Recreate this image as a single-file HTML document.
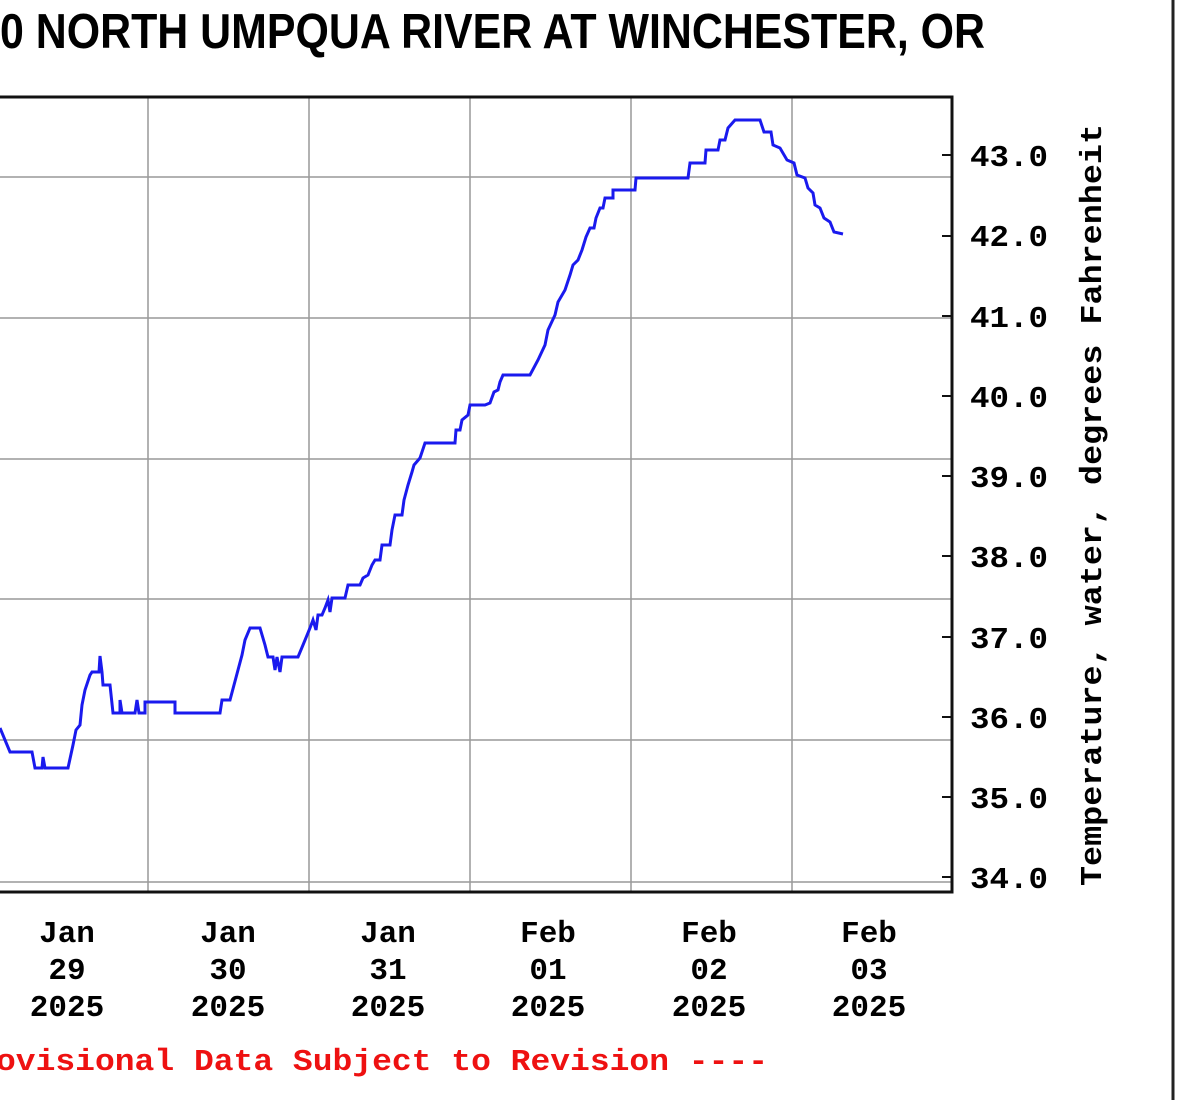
<!DOCTYPE html>
<html><head><meta charset="utf-8"><style>
html,body{margin:0;padding:0;background:#fff;width:1200px;height:1100px;overflow:hidden}
svg{display:block}
.m{font-family:"Liberation Mono","DejaVu Sans Mono",monospace;font-weight:bold;font-size:31px;fill:#000}
</style></head><body>
<svg width="1200" height="1100" viewBox="0 0 1200 1100" xmlns="http://www.w3.org/2000/svg">
<text x="0" y="48" font-family="'Liberation Sans Narrow','Liberation Sans',sans-serif" font-weight="bold" font-size="49" textLength="985" lengthAdjust="spacingAndGlyphs">0 NORTH UMPQUA RIVER AT WINCHESTER, OR</text>
<g stroke="#999" stroke-width="1.5">
<line x1="148" y1="97" x2="148" y2="892"/><line x1="309" y1="97" x2="309" y2="892"/><line x1="470" y1="97" x2="470" y2="892"/><line x1="631" y1="97" x2="631" y2="892"/><line x1="792" y1="97" x2="792" y2="892"/>
<line x1="0" y1="177" x2="952" y2="177"/><line x1="0" y1="318" x2="952" y2="318"/><line x1="0" y1="459" x2="952" y2="459"/><line x1="0" y1="599" x2="952" y2="599"/><line x1="0" y1="740" x2="952" y2="740"/><line x1="0" y1="882" x2="952" y2="882"/>
</g>
<path d="M-2 97 H952 V892 H-2" fill="none" stroke="#111" stroke-width="3"/>
<g stroke="#111" stroke-width="2">
<line x1="942" y1="155" x2="952" y2="155"/><line x1="942" y1="236" x2="952" y2="236"/><line x1="942" y1="316" x2="952" y2="316"/><line x1="942" y1="396" x2="952" y2="396"/><line x1="942" y1="476" x2="952" y2="476"/><line x1="942" y1="556" x2="952" y2="556"/><line x1="942" y1="637" x2="952" y2="637"/><line x1="942" y1="717" x2="952" y2="717"/><line x1="942" y1="797" x2="952" y2="797"/><line x1="942" y1="877" x2="952" y2="877"/>
</g>
<line x1="1173" y1="0" x2="1173" y2="1100" stroke="#222" stroke-width="3"/>
<polyline fill="none" stroke="#1a1aee" stroke-width="3" stroke-linejoin="miter" points="0,728 5,740 10,752 32,752 35,768 42,768 43,757 45,768 68,768 73,745 76,730 80,725 82,705 85,690 90,675 92,672 99,672 100,656 102,672 103,685 110,685 113,713 120,713 120,700 122,713 135,713 137,700 139,713 145,713 145,702 175,702 175,713 220,713 222,700 230,700 234,685 238,670 242,655 245,640 250,628 260,628 265,645 268,657 273,657 275,670 277,657 280,672 282,657 298,657 303,645 310,628 313,620 316,630 318,615 322,615 325,608 328,600 330,612 332,598 345,598 348,585 360,585 363,578 368,575 372,565 375,560 380,560 382,545 390,545 392,530 395,515 402,515 404,500 408,485 412,472 414,465 420,458 425,443 455,443 456,430 460,430 462,420 468,415 470,405 476,405 480,405 485,405 490,403 494,392 498,390 500,382 503,375 530,375 538,360 545,345 548,330 555,315 558,302 565,290 570,275 573,265 578,260 582,250 586,237 590,228 594,228 596,218 600,208 603,208 605,198 613,198 613,190 635,190 636,178 688,178 690,163 705,163 706,150 718,150 720,140 725,140 728,128 735,120 760,120 764,132 771,132 773,145 780,148 787,160 794,163 797,175 805,178 808,188 813,193 815,205 820,208 824,218 830,222 834,232 843,234"/>
<g class="m" text-anchor="start">
<text x="970" y="166" textLength="78" lengthAdjust="spacingAndGlyphs">43.0</text>
<text x="970" y="246" textLength="78" lengthAdjust="spacingAndGlyphs">42.0</text>
<text x="970" y="327" textLength="78" lengthAdjust="spacingAndGlyphs">41.0</text>
<text x="970" y="407" textLength="78" lengthAdjust="spacingAndGlyphs">40.0</text>
<text x="970" y="487" textLength="78" lengthAdjust="spacingAndGlyphs">39.0</text>
<text x="970" y="567" textLength="78" lengthAdjust="spacingAndGlyphs">38.0</text>
<text x="970" y="648" textLength="78" lengthAdjust="spacingAndGlyphs">37.0</text>
<text x="970" y="728" textLength="78" lengthAdjust="spacingAndGlyphs">36.0</text>
<text x="970" y="808" textLength="78" lengthAdjust="spacingAndGlyphs">35.0</text>
<text x="970" y="888" textLength="78" lengthAdjust="spacingAndGlyphs">34.0</text>
</g>
<text class="m" transform="translate(1101,886) rotate(-90)" x="0" y="0" textLength="762" lengthAdjust="spacingAndGlyphs">Temperature, water, degrees Fahrenheit</text>
<g class="m" text-anchor="middle">
<text x="67" y="942">Jan</text><text x="67" y="979">29</text><text x="67" y="1016">2025</text>
<text x="228" y="942">Jan</text><text x="228" y="979">30</text><text x="228" y="1016">2025</text>
<text x="388" y="942">Jan</text><text x="388" y="979">31</text><text x="388" y="1016">2025</text>
<text x="548" y="942">Feb</text><text x="548" y="979">01</text><text x="548" y="1016">2025</text>
<text x="709" y="942">Feb</text><text x="709" y="979">02</text><text x="709" y="1016">2025</text>
<text x="869" y="942">Feb</text><text x="869" y="979">03</text><text x="869" y="1016">2025</text>
</g>
<text x="-4" y="1070" font-family="'Liberation Mono',monospace" font-weight="bold" font-size="31" fill="#ee1111" textLength="772" lengthAdjust="spacingAndGlyphs">ovisional Data Subject to Revision ----</text>
</svg>
</body></html>
